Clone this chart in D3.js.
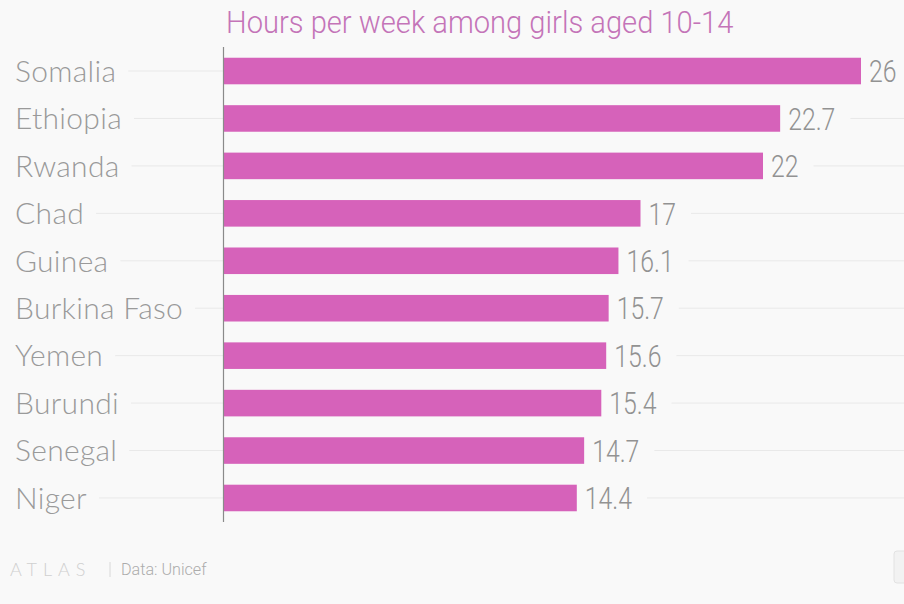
<!DOCTYPE html>
<html><head><meta charset="utf-8">
<script src="https://cdn.jsdelivr.net/npm/d3@7/dist/d3.min.js"></script>
<style>
html,body{margin:0;padding:0;background:#f9f9f9;}
svg{display:block;}
</style></head>
<body>
<script>
const title = "Hours per week among girls aged 10-14";
const countries = ["Somalia","Ethiopia","Rwanda","Chad","Guinea","Burkina Faso","Yemen","Burundi","Senegal","Niger"];
const hours = [26,22.7,22,17,16.1,15.7,15.6,15.4,14.7,14.4];
const valueLabels = ["26","22.7","22","17","16.1","15.7","15.6","15.4","14.7","14.4"];
const footerBrand = "ATLAS";
const footerSource = "Data: Unicef";

const W = 904, H = 604;
const svg = d3.select("body").append("svg").attr("width", W).attr("height", H);
svg.append("rect").attr("width", W).attr("height", H).attr("fill", "#f9f9f9");

const x0 = 224;
const x = d3.scaleLinear().domain([0, 26]).range([x0, 861]);
const y = d3.scaleBand().domain(countries).range([47.3, 521.7]).paddingInner(0.44).paddingOuter(0.22);

const rows = countries.map((c, i) => ({c, v: hours[i], lab: valueLabels[i]}));

const grid = svg.append("g");
const labelFont = "Lato, 'Open Sans', sans-serif";
const numFont = "Roboto, sans-serif";

// country labels
const lab = svg.append("g").selectAll("text").data(rows).join("text")
  .attr("x", 15).attr("y", d => y(d.c) + y.bandwidth()/2)
  .attr("dy", "0.36em")
  .attr("font-family", labelFont).attr("font-weight", 300)
  .attr("font-size", 30).attr("letter-spacing", 0.3).attr("fill", "#9a9a9a")
  .text(d => d.c);

// bars
svg.append("g").selectAll("rect").data(rows).join("rect")
  .attr("x", x(0)).attr("y", d => y(d.c))
  .attr("width", d => x(d.v) - x(0)).attr("height", y.bandwidth())
  .attr("fill", "#d662ba");

// value labels (condensed)
const sx = 0.8;
const vals = svg.append("g").selectAll("text").data(rows).join("text")
  .attr("transform", d => `translate(${x(d.v) + 8},${y(d.c) + y.bandwidth()/2}) scale(${sx},1)`)
  .attr("dy", "0.36em")
  .attr("font-family", numFont).attr("font-weight", 300)
  .attr("font-size", 31).attr("fill", "#929292")
  .text(d => d.lab);

// gridlines
lab.each(function(d) {
  const w = this.getComputedTextLength();
  grid.append("line").attr("x1", 15 + w + 12).attr("x2", x0)
    .attr("y1", y(d.c) + y.bandwidth()/2).attr("y2", y(d.c) + y.bandwidth()/2)
    .attr("stroke", "#e9e9e9").attr("stroke-width", 1);
});
vals.each(function(d) {
  const w = this.getComputedTextLength() * sx;
  grid.append("line").attr("x1", x(d.v) + 8 + w + 15).attr("x2", W)
    .attr("y1", y(d.c) + y.bandwidth()/2).attr("y2", y(d.c) + y.bandwidth()/2)
    .attr("stroke", "#e9e9e9").attr("stroke-width", 1);
});

// baseline axis
svg.append("line").attr("x1", x0 - 0.5).attr("x2", x0 - 0.5).attr("y1", 47).attr("y2", 522)
  .attr("stroke", "#8a8a8a").attr("stroke-width", 1.2);

// title
svg.append("text").attr("transform", `translate(226,33) scale(0.94,1)`)
  .attr("font-family", numFont).attr("font-weight", 300)
  .attr("font-size", 31).attr("fill", "#c474b8")
  .text(title);

// footer
svg.append("text").attr("x", 10).attr("y", 576)
  .attr("font-family", labelFont).attr("font-weight", 300)
  .attr("font-size", 18).attr("letter-spacing", 6).attr("fill", "#d0d0d0")
  .text(footerBrand);
svg.append("line").attr("x1", 110).attr("x2", 110).attr("y1", 562).attr("y2", 577)
  .attr("stroke", "#d8d8d8");
svg.append("text").attr("transform", "translate(121,575) scale(0.95,1)")
  .attr("font-family", numFont).attr("font-weight", 300)
  .attr("font-size", 17).attr("fill", "#acacac")
  .text(footerSource);
svg.append("rect").attr("x", 894).attr("y", 551).attr("width", 20).attr("height", 32).attr("rx", 3)
  .attr("fill", "#f2f2f2").attr("stroke", "#e2e2e2");
</script>
</body></html>
